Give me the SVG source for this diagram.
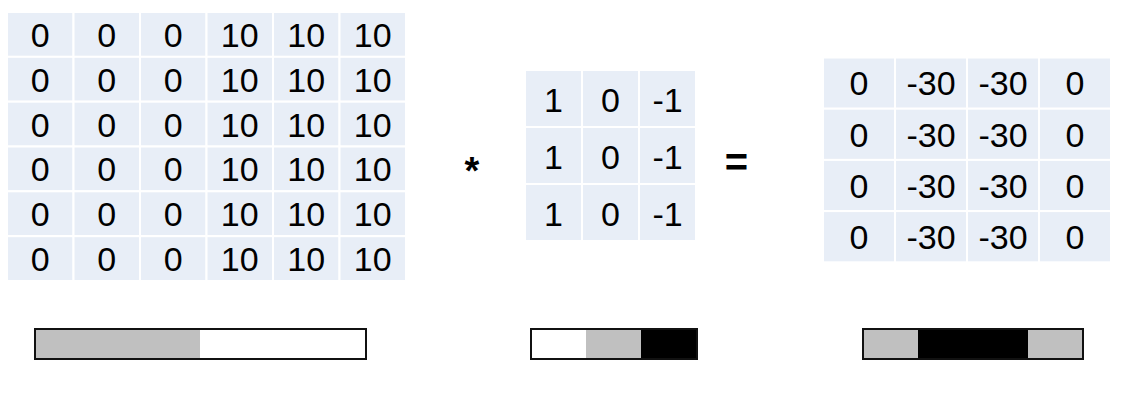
<svg xmlns="http://www.w3.org/2000/svg" width="1121" height="405" viewBox="0 0 1121 405">
<style>
.cell{fill:#E8EEF7;stroke:#FFFFFF;stroke-width:2}
.num{font-family:"Liberation Sans",Arial,sans-serif;font-size:34px;fill:#000;text-anchor:middle}
.op{font-family:"Liberation Sans",Arial,sans-serif;font-weight:bold;fill:#000;text-anchor:middle}
.bar{stroke:#111;stroke-width:2}
</style>
<rect width="1121" height="405" fill="#FFFFFF"/>
<g id="input-matrix">
<g id="input-cells">
<rect class="cell" x="7" y="12" width="66.5" height="44.83"/><rect class="cell" x="73.5" y="12" width="66.5" height="44.83"/><rect class="cell" x="140" y="12" width="66.5" height="44.83"/><rect class="cell" x="206.5" y="12" width="66.5" height="44.83"/><rect class="cell" x="273" y="12" width="66.5" height="44.83"/><rect class="cell" x="339.5" y="12" width="66.5" height="44.83"/>
<rect class="cell" x="7" y="56.83" width="66.5" height="44.83"/><rect class="cell" x="73.5" y="56.83" width="66.5" height="44.83"/><rect class="cell" x="140" y="56.83" width="66.5" height="44.83"/><rect class="cell" x="206.5" y="56.83" width="66.5" height="44.83"/><rect class="cell" x="273" y="56.83" width="66.5" height="44.83"/><rect class="cell" x="339.5" y="56.83" width="66.5" height="44.83"/>
<rect class="cell" x="7" y="101.67" width="66.5" height="44.83"/><rect class="cell" x="73.5" y="101.67" width="66.5" height="44.83"/><rect class="cell" x="140" y="101.67" width="66.5" height="44.83"/><rect class="cell" x="206.5" y="101.67" width="66.5" height="44.83"/><rect class="cell" x="273" y="101.67" width="66.5" height="44.83"/><rect class="cell" x="339.5" y="101.67" width="66.5" height="44.83"/>
<rect class="cell" x="7" y="146.5" width="66.5" height="44.83"/><rect class="cell" x="73.5" y="146.5" width="66.5" height="44.83"/><rect class="cell" x="140" y="146.5" width="66.5" height="44.83"/><rect class="cell" x="206.5" y="146.5" width="66.5" height="44.83"/><rect class="cell" x="273" y="146.5" width="66.5" height="44.83"/><rect class="cell" x="339.5" y="146.5" width="66.5" height="44.83"/>
<rect class="cell" x="7" y="191.33" width="66.5" height="44.83"/><rect class="cell" x="73.5" y="191.33" width="66.5" height="44.83"/><rect class="cell" x="140" y="191.33" width="66.5" height="44.83"/><rect class="cell" x="206.5" y="191.33" width="66.5" height="44.83"/><rect class="cell" x="273" y="191.33" width="66.5" height="44.83"/><rect class="cell" x="339.5" y="191.33" width="66.5" height="44.83"/>
<rect class="cell" x="7" y="236.17" width="66.5" height="44.83"/><rect class="cell" x="73.5" y="236.17" width="66.5" height="44.83"/><rect class="cell" x="140" y="236.17" width="66.5" height="44.83"/><rect class="cell" x="206.5" y="236.17" width="66.5" height="44.83"/><rect class="cell" x="273" y="236.17" width="66.5" height="44.83"/><rect class="cell" x="339.5" y="236.17" width="66.5" height="44.83"/>
</g>
<g id="input-values">
<text class="num" x="40.25" y="46.8">0</text><text class="num" x="106.75" y="46.8">0</text><text class="num" x="173.25" y="46.8">0</text><text class="num" x="239.75" y="46.8">10</text><text class="num" x="306.25" y="46.8">10</text><text class="num" x="372.75" y="46.8">10</text>
<text class="num" x="40.25" y="91.6">0</text><text class="num" x="106.75" y="91.6">0</text><text class="num" x="173.25" y="91.6">0</text><text class="num" x="239.75" y="91.6">10</text><text class="num" x="306.25" y="91.6">10</text><text class="num" x="372.75" y="91.6">10</text>
<text class="num" x="40.25" y="136.5">0</text><text class="num" x="106.75" y="136.5">0</text><text class="num" x="173.25" y="136.5">0</text><text class="num" x="239.75" y="136.5">10</text><text class="num" x="306.25" y="136.5">10</text><text class="num" x="372.75" y="136.5">10</text>
<text class="num" x="40.25" y="181.3">0</text><text class="num" x="106.75" y="181.3">0</text><text class="num" x="173.25" y="181.3">0</text><text class="num" x="239.75" y="181.3">10</text><text class="num" x="306.25" y="181.3">10</text><text class="num" x="372.75" y="181.3">10</text>
<text class="num" x="40.25" y="226.1">0</text><text class="num" x="106.75" y="226.1">0</text><text class="num" x="173.25" y="226.1">0</text><text class="num" x="239.75" y="226.1">10</text><text class="num" x="306.25" y="226.1">10</text><text class="num" x="372.75" y="226.1">10</text>
<text class="num" x="40.25" y="271">0</text><text class="num" x="106.75" y="271">0</text><text class="num" x="173.25" y="271">0</text><text class="num" x="239.75" y="271">10</text><text class="num" x="306.25" y="271">10</text><text class="num" x="372.75" y="271">10</text>
</g>
</g>
<g id="op-convolve">
<text class="op" x="472" y="184" font-size="38">*</text>
</g>
<g id="kernel">
<rect class="cell" x="525" y="70" width="57" height="57"/><rect class="cell" x="582" y="70" width="57" height="57"/><rect class="cell" x="639" y="70" width="57" height="57"/>
<rect class="cell" x="525" y="127" width="57" height="57"/><rect class="cell" x="582" y="127" width="57" height="57"/><rect class="cell" x="639" y="127" width="57" height="57"/>
<rect class="cell" x="525" y="184" width="57" height="57"/><rect class="cell" x="582" y="184" width="57" height="57"/><rect class="cell" x="639" y="184" width="57" height="57"/>
<text class="num" x="553.5" y="111.5">1</text><text class="num" x="610.5" y="111.5">0</text><text class="num" x="667.5" y="111.5">-1</text>
<text class="num" x="553.5" y="168.5">1</text><text class="num" x="610.5" y="168.5">0</text><text class="num" x="667.5" y="168.5">-1</text>
<text class="num" x="553.5" y="225.5">1</text><text class="num" x="610.5" y="225.5">0</text><text class="num" x="667.5" y="225.5">-1</text>
</g>
<g id="op-equals">
<text class="op" x="736.5" y="176" font-size="40">=</text>
</g>
<g id="output-matrix">
<rect class="cell" x="823" y="57.5" width="72" height="51.2"/><rect class="cell" x="895" y="57.5" width="72" height="51.2"/><rect class="cell" x="967" y="57.5" width="72" height="51.2"/><rect class="cell" x="1039" y="57.5" width="72" height="51.2"/>
<rect class="cell" x="823" y="108.7" width="72" height="51.2"/><rect class="cell" x="895" y="108.7" width="72" height="51.2"/><rect class="cell" x="967" y="108.7" width="72" height="51.2"/><rect class="cell" x="1039" y="108.7" width="72" height="51.2"/>
<rect class="cell" x="823" y="159.9" width="72" height="51.2"/><rect class="cell" x="895" y="159.9" width="72" height="51.2"/><rect class="cell" x="967" y="159.9" width="72" height="51.2"/><rect class="cell" x="1039" y="159.9" width="72" height="51.2"/>
<rect class="cell" x="823" y="211.1" width="72" height="51.2"/><rect class="cell" x="895" y="211.1" width="72" height="51.2"/><rect class="cell" x="967" y="211.1" width="72" height="51.2"/><rect class="cell" x="1039" y="211.1" width="72" height="51.2"/>
<text class="num" x="859" y="95.4">0</text><text class="num" x="931" y="95.4">-30</text><text class="num" x="1003" y="95.4">-30</text><text class="num" x="1075" y="95.4">0</text>
<text class="num" x="859" y="146.6">0</text><text class="num" x="931" y="146.6">-30</text><text class="num" x="1003" y="146.6">-30</text><text class="num" x="1075" y="146.6">0</text>
<text class="num" x="859" y="197.8">0</text><text class="num" x="931" y="197.8">-30</text><text class="num" x="1003" y="197.8">-30</text><text class="num" x="1075" y="197.8">0</text>
<text class="num" x="859" y="249">0</text><text class="num" x="931" y="249">-30</text><text class="num" x="1003" y="249">-30</text><text class="num" x="1075" y="249">0</text>
</g>
<g id="input-bar">
<rect x="35" y="329" width="165" height="30" fill="#C0C0C0"/>
<rect x="200" y="329" width="166" height="30" fill="#FFFFFF"/>
<rect class="bar" x="35" y="329" width="331" height="30" fill="none"/>
</g>
<g id="kernel-bar">
<rect x="531" y="329" width="55" height="30" fill="#FFFFFF"/>
<rect x="586" y="329" width="55" height="30" fill="#C0C0C0"/>
<rect x="641" y="329" width="56" height="30" fill="#000000"/>
<rect class="bar" x="531" y="329" width="166" height="30" fill="none"/>
</g>
<g id="output-bar">
<rect x="863" y="329" width="55" height="30" fill="#C0C0C0"/>
<rect x="918" y="329" width="110" height="30" fill="#000000"/>
<rect x="1028" y="329" width="55" height="30" fill="#C0C0C0"/>
<rect class="bar" x="863" y="329" width="220" height="30" fill="none"/>
</g>
<g id="connectors"></g>
</svg>
